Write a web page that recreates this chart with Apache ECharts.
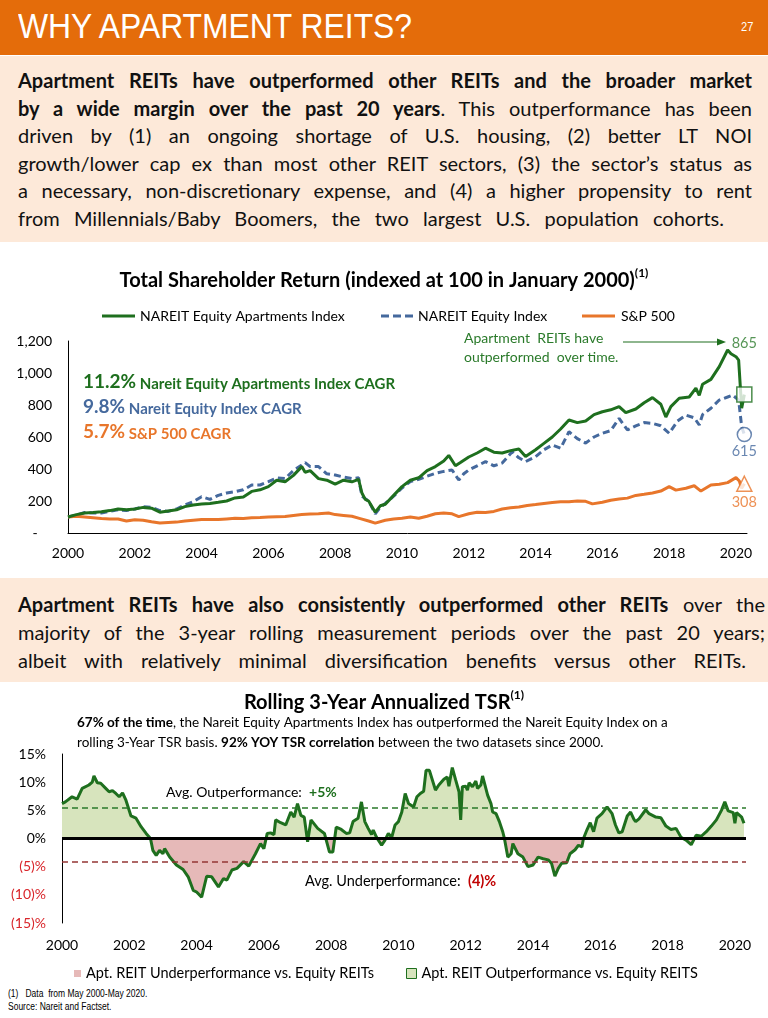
<!DOCTYPE html>
<html><head><meta charset="utf-8">
<script src="https://cdn.jsdelivr.net/npm/echarts@6/dist/echarts.min.js"></script>
<style>
html,body{margin:0;padding:0;width:768px;height:1018px;overflow:hidden;background:#fff;font-family:Lato,'Noto Sans',sans-serif;}
#hdr{position:absolute;left:0;top:0;width:768px;height:55px;background:#E46C0A;}
#hdr .t{position:absolute;left:18px;top:5px;color:#fff;font-family:'Liberation Sans',Arial,sans-serif;font-size:35px;line-height:42px;transform:scaleX(0.91);transform-origin:0 0;white-space:nowrap;}
#hdr .n{position:absolute;left:741px;top:19px;color:#fff;font-family:'Liberation Sans',Arial,sans-serif;font-size:13px;line-height:16px;transform:scaleX(0.85);transform-origin:0 0;}
.box{position:absolute;left:0;width:768px;background:#FDE9D9;}
.jl{position:absolute;left:18px;display:inline-block;white-space:nowrap;font-size:20px;line-height:28px;color:#111;}
.jl b{font-weight:700;}
.fn{position:absolute;left:8px;font-family:'Liberation Sans',Arial,sans-serif;font-size:10px;line-height:12px;color:#000;transform:scaleX(0.85);transform-origin:0 0;white-space:nowrap;}
#chart{position:absolute;left:0;top:0;width:768px;height:1018px;z-index:2;}
</style>
</head>
<body>
<div id="hdr"><div class="t">WHY APARTMENT REITS?</div><div class="n">27</div></div>
<div class="box" style="top:56px;height:186px;"></div>
<div class="box" style="top:578px;height:104px;"></div>
<div class="jl" data-w="734" style="top:66px;"><b>Apartment REITs have outperformed other REITs and the broader market</b></div>
<div class="jl" data-w="734" style="top:93.6px;"><b>by a wide margin over the past 20 years</b>. This outperformance has been</div>
<div class="jl" data-w="734" style="top:121.2px;">driven by (1) an ongoing shortage of U.S. housing, (2) better LT NOI</div>
<div class="jl" data-w="734" style="top:148.8px;">growth/lower cap ex than most other REIT sectors, (3) the sector’s status as</div>
<div class="jl" data-w="734" style="top:176.4px;">a necessary, non-discretionary expense, and (4) a higher propensity to rent</div>
<div class="jl" data-w="706" style="top:204px;">from Millennials/Baby Boomers, the two largest U.S. population cohorts.</div>
<div class="jl" data-w="747" style="top:590px;"><b>Apartment REITs have also consistently outperformed other REITs</b> over the</div>
<div class="jl" data-w="747" style="top:618px;">majority of the 3-year rolling measurement periods over the past 20 years;</div>
<div class="jl" data-w="728" style="top:646px;">albeit with relatively minimal diversification benefits versus other REITs.</div>
<div class="fn" style="top:988px;">(1)&nbsp;&nbsp; Data&nbsp; from May 2000-May 2020.</div>
<div class="fn" style="top:1001px;">Source: Nareit and Factset.</div>
<div id="chart"></div>
<script>
// ---------- DATA ----------
const aptTSR = [[2000.0,100],[2000.25,115],[2000.5,125],[2000.75,128],[2001.0,133],[2001.25,140],[2001.5,150],[2001.75,145],[2002.0,150],[2002.25,160],[2002.5,155],[2002.75,130],[2003.0,138],[2003.25,145],[2003.5,165],[2003.75,175],[2004.0,181],[2004.25,185],[2004.5,192],[2004.75,200],[2005.0,219],[2005.25,225],[2005.5,260],[2005.75,270],[2006.0,290],[2006.25,330],[2006.5,320],[2006.75,360],[2007.0,415],[2007.1,380],[2007.25,390],[2007.5,340],[2007.75,330],[2008.0,305],[2008.25,330],[2008.5,320],[2008.7,335],[2008.8,250],[2008.9,210],[2009.0,200],[2009.2,130],[2009.35,170],[2009.5,180],[2009.75,235],[2010.0,290],[2010.25,330],[2010.5,345],[2010.75,390],[2011.0,415],[2011.25,450],[2011.4,485],[2011.6,420],[2011.75,440],[2012.0,475],[2012.25,500],[2012.5,530],[2012.75,505],[2013.0,500],[2013.25,515],[2013.5,525],[2013.7,478],[2014.0,520],[2014.25,560],[2014.5,600],[2014.75,650],[2015.0,706],[2015.25,690],[2015.5,700],[2015.75,740],[2016.0,758],[2016.25,770],[2016.5,790],[2016.7,752],[2017.0,775],[2017.25,814],[2017.5,846],[2017.75,805],[2017.9,725],[2018.05,790],[2018.3,842],[2018.6,850],[2018.8,905],[2018.9,860],[2019.0,930],[2019.25,960],[2019.5,1040],[2019.75,1144],[2019.85,1120],[2020.0,1102],[2020.08,1080],[2020.17,780],[2020.25,865]];
const reitTSR = [[2000.0,100],[2000.25,112],[2000.5,128],[2000.75,125],[2001.0,125],[2001.25,135],[2001.5,145],[2001.75,140],[2002.0,150],[2002.25,165],[2002.5,160],[2002.75,140],[2003.0,135],[2003.25,150],[2003.5,175],[2003.75,195],[2004.0,227],[2004.25,210],[2004.5,235],[2004.75,250],[2005.0,258],[2005.25,270],[2005.5,300],[2005.75,300],[2006.0,321],[2006.25,345],[2006.5,340],[2006.75,390],[2007.0,425],[2007.1,440],[2007.25,415],[2007.5,415],[2007.75,370],[2008.0,362],[2008.25,350],[2008.5,340],[2008.7,345],[2008.8,230],[2008.9,215],[2009.0,200],[2009.2,120],[2009.35,160],[2009.5,185],[2009.75,230],[2010.0,281],[2010.25,321],[2010.5,335],[2010.75,355],[2011.0,373],[2011.25,385],[2011.5,394],[2011.7,331],[2011.85,370],[2012.0,394],[2012.25,420],[2012.5,446],[2012.75,420],[2013.0,437],[2013.3,508],[2013.5,470],[2013.7,446],[2014.0,477],[2014.25,520],[2014.5,550],[2014.75,530],[2015.0,633],[2015.25,590],[2015.5,562],[2015.75,600],[2016.0,623],[2016.25,640],[2016.5,717],[2016.75,644],[2017.0,670],[2017.25,690],[2017.5,685],[2017.75,670],[2018.0,623],[2018.25,700],[2018.5,737],[2018.75,720],[2018.9,675],[2019.0,740],[2019.25,780],[2019.5,831],[2019.75,850],[2019.9,862],[2020.08,831],[2020.17,665],[2020.25,615]];
const spTSR = [[2000.0,100],[2000.25,105],[2000.5,100],[2000.75,95],[2001.0,90],[2001.25,88],[2001.5,88],[2001.75,75],[2002.0,83],[2002.25,80],[2002.5,70],[2002.75,62],[2003.0,65],[2003.25,68],[2003.5,75],[2003.75,80],[2004.0,85],[2004.25,85],[2004.5,84],[2004.75,88],[2005.0,92],[2005.25,90],[2005.5,95],[2005.75,97],[2006.0,100],[2006.25,102],[2006.5,103],[2006.75,110],[2007.0,115],[2007.25,118],[2007.5,120],[2007.8,125],[2008.0,115],[2008.25,110],[2008.5,105],[2008.75,90],[2009.0,75],[2009.2,62],[2009.5,80],[2009.75,88],[2010.0,92],[2010.25,100],[2010.5,92],[2010.75,105],[2011.0,120],[2011.25,125],[2011.5,120],[2011.7,102],[2012.0,120],[2012.25,130],[2012.5,128],[2012.75,135],[2013.0,150],[2013.25,158],[2013.5,162],[2013.75,172],[2014.0,178],[2014.25,185],[2014.5,190],[2014.75,195],[2015.0,196],[2015.25,200],[2015.5,198],[2015.7,182],[2016.0,192],[2016.25,205],[2016.5,212],[2016.75,218],[2017.0,235],[2017.25,242],[2017.5,250],[2017.75,262],[2018.0,290],[2018.2,268],[2018.5,280],[2018.75,295],[2018.95,262],[2019.25,300],[2019.5,305],[2019.75,315],[2020.0,346],[2020.1,325],[2020.17,280],[2020.25,308]];
const rollingTSR = [[2000.0,6.2],[2000.1,6.5],[2000.3,7.4],[2000.45,7.0],[2000.6,8.9],[2000.8,9.5],[2000.9,10.0],[2000.95,11.1],[2001.05,9.9],[2001.15,9.8],[2001.3,8.9],[2001.4,8.3],[2001.5,8.5],[2001.6,8.0],[2001.7,7.4],[2001.8,8.1],[2001.9,6.8],[2002.05,4.0],[2002.2,3.6],[2002.35,2.1],[2002.5,0.9],[2002.55,1.2],[2002.63,0.0],[2002.7,-2.1],[2002.8,-3.0],[2002.9,-2.1],[2003.0,-2.7],[2003.05,-1.8],[2003.2,-3.3],[2003.4,-4.7],[2003.5,-5.1],[2003.6,-5.5],[2003.75,-6.8],[2003.9,-9.2],[2004.0,-9.5],[2004.15,-10.4],[2004.3,-6.7],[2004.45,-6.8],[2004.65,-8.6],[2004.8,-7.1],[2004.9,-7.4],[2005.05,-5.6],[2005.2,-5.3],[2005.4,-4.1],[2005.55,-4.9],[2005.75,-2.7],[2005.9,-0.9],[2006.0,-1.8],[2006.1,0.9],[2006.2,1.0],[2006.3,0.7],[2006.35,3.3],[2006.5,2.8],[2006.65,2.4],[2006.8,4.7],[2006.9,3.8],[2007.0,6.2],[2007.1,4.1],[2007.2,3.8],[2007.3,-0.6],[2007.4,3.3],[2007.6,1.8],[2007.8,0.9],[2007.95,-2.4],[2008.05,-2.4],[2008.15,2.0],[2008.3,1.6],[2008.45,0.9],[2008.55,1.0],[2008.65,3.0],[2008.8,3.6],[2008.9,6.5],[2009.0,3.0],[2009.1,1.8],[2009.2,0.7],[2009.25,1.5],[2009.35,0.2],[2009.5,-1.2],[2009.6,-0.3],[2009.7,0.9],[2009.8,0.2],[2009.9,2.4],[2010.0,3.0],[2010.1,4.7],[2010.2,8.0],[2010.3,6.2],[2010.45,5.6],[2010.55,7.4],[2010.65,8.0],[2010.75,8.4],[2010.82,12.1],[2010.92,12.1],[2011.1,8.6],[2011.2,9.5],[2011.35,10.5],[2011.45,10.9],[2011.5,9.3],[2011.6,12.6],[2011.7,10.4],[2011.8,8.3],[2011.85,3.3],[2011.9,9.2],[2012.0,9.3],[2012.05,8.6],[2012.1,9.9],[2012.2,9.2],[2012.3,10.2],[2012.35,8.9],[2012.45,9.5],[2012.5,11.1],[2012.65,7.7],[2012.75,6.2],[2012.8,4.7],[2012.9,4.4],[2013.0,3.0],[2013.1,1.2],[2013.15,0.0],[2013.25,-3.3],[2013.35,-2.7],[2013.4,-0.9],[2013.55,-2.7],[2013.7,-3.3],[2013.85,-5.0],[2014.0,-4.7],[2014.15,-3.3],[2014.3,-3.6],[2014.45,-3.8],[2014.55,-4.4],[2014.65,-6.7],[2014.75,-5.3],[2014.85,-4.4],[2015.0,-4.3],[2015.1,-2.7],[2015.25,-2.0],[2015.35,-1.2],[2015.45,-1.5],[2015.5,0.0],[2015.6,1.5],[2015.7,2.8],[2015.8,1.2],[2015.9,3.6],[2016.05,4.4],[2016.2,5.6],[2016.35,4.4],[2016.45,2.4],[2016.55,1.0],[2016.65,1.2],[2016.8,4.0],[2016.9,4.7],[2017.0,3.4],[2017.05,3.0],[2017.15,3.5],[2017.35,5.1],[2017.45,4.4],[2017.65,3.8],[2017.8,3.7],[2017.95,2.2],[2018.1,1.6],[2018.25,1.8],[2018.4,0.2],[2018.55,-0.3],[2018.7,-1.1],[2018.85,0.6],[2019.0,0.4],[2019.15,1.2],[2019.3,2.2],[2019.45,3.3],[2019.6,5.0],[2019.7,6.5],[2019.8,4.9],[2019.95,4.6],[2020.0,2.7],[2020.05,4.6],[2020.2,3.8],[2020.27,2.7]];
const avgLines = [5.4, -4.1];           // dashed average lines (%)
const avgLabels = ['+5%', '(4)%'];
const cagrValues = ['11.2%', '9.8%', '5.7%'];
const cagrNames = ['Nareit Equity Apartments Index CAGR', 'Nareit Equity Index CAGR', 'S&P 500 CAGR'];
const seriesNames = ['NAREIT Equity Apartments Index', 'NAREIT Equity Index', 'S&P 500'];
const legend2Names = ['Apt. REIT Underperformance vs. Equity REITs', 'Apt. REIT Outperformance vs. Equity REITS'];

// ---------- text justification ----------
function justify(){
  document.querySelectorAll('.jl').forEach(el=>{
    el.style.wordSpacing='0px';
    const w = el.getBoundingClientRect().width;
    const n = (el.textContent.match(/ /g)||[]).length;
    if(n>0) el.style.wordSpacing = ((+el.dataset.w - w)/n)+'px';
  });
}
justify();
if(document.fonts && document.fonts.ready) document.fonts.ready.then(justify);

// ---------- chart ----------
const GREEN='#1E6F1E', TGREEN='#2A7A2A', BLUE='#45699D', ORANGE='#E8762B', PINK='#E6B9B8', LGREEN='#D7E4BD', RED='#D9262B', DRED='#C00000';
const F='Lato';
const last = a => a[a.length-1];
const yearFmt = v => (Math.abs(v-Math.round(v))<1e-6 && Math.round(v)%2===0) ? String(Math.round(v)) : '';
// split point of the two-colour fill (zero level inside the area's bounding box)
const rVals = rollingTSR.map(d=>d[1]);
const rMax = Math.max(0, ...rVals), rMin = Math.min(0, ...rVals);
const zeroStop = rMax/(rMax - rMin);

const chart = echarts.init(document.getElementById('chart'), null, {renderer:'canvas'});
const titleRich = {t:{fontSize:20,fontWeight:'bold',color:'#000',fontFamily:F,lineHeight:24,verticalAlign:'bottom'},
                   s:{fontSize:12,fontWeight:'bold',color:'#000',fontFamily:F,verticalAlign:'top',lineHeight:24}};
const lineIcon = 'path://M0,0h33v3h-33z';
const dashIcon = 'path://M0,0h8v3h-8z M12,0h8v3h-8z M24,0h8v3h-8z';
const option = {
  animation:false,
  textStyle:{fontFamily:F},
  title:[
    {text:'{t|Total Shareholder Return (indexed at 100 in January 2000)}{s|(1)}', left:'center', top:262, textStyle:{rich:titleRich}},
    {text:'{t|Rolling 3-Year Annualized TSR}{s|(1)}', left:'center', top:684, textStyle:{rich:titleRich}}
  ],
  legend:[
    {left:97, top:304, data:[{name:seriesNames[0], icon:lineIcon}], itemWidth:33, itemHeight:3, textStyle:{fontSize:14,color:'#000',fontFamily:F}},
    {left:376, top:304, data:[{name:seriesNames[1], icon:dashIcon}], itemWidth:32, itemHeight:3, textStyle:{fontSize:14,color:'#000',fontFamily:F}},
    {left:577, top:304, data:[{name:seriesNames[2], icon:lineIcon}], itemWidth:35, itemHeight:3, textStyle:{fontSize:14,color:'#000',fontFamily:F}},
    {left:69, top:961, data:[{name:legend2Names[0], icon:'rect', itemStyle:{color:PINK}}], itemWidth:7, itemHeight:7, textStyle:{fontSize:14.5,color:'#000',fontFamily:F}},
    {left:401, top:961, data:[{name:legend2Names[1], icon:'rect', itemStyle:{color:LGREEN,borderColor:GREEN,borderWidth:1}}], itemWidth:10, itemHeight:10, textStyle:{fontSize:14.5,color:'#000',fontFamily:F}}
  ],
  grid:[
    {left:68, top:341, width:679, height:192},
    {left:62, top:754, width:684, height:169}
  ],
  xAxis:[
    {type:'value', gridIndex:0, min:2000, max:2020.33, interval:2,
     axisLine:{onZero:false, lineStyle:{color:'#000',width:1}}, axisTick:{show:false}, splitLine:{show:false},
     axisLabel:{formatter:yearFmt, fontSize:14, color:'#000', margin:13, fontFamily:F}},
    {type:'value', gridIndex:1, min:2000, max:2020.33, interval:2,
     axisLine:{show:false, onZero:false}, axisTick:{show:false}, splitLine:{show:false},
     axisLabel:{formatter:yearFmt, fontSize:14, color:'#000', margin:15, fontFamily:F}}
  ],
  yAxis:[
    {type:'value', gridIndex:0, min:0, max:1200, interval:200,
     axisLine:{show:true, onZero:false, lineStyle:{color:'#000',width:1}}, axisTick:{show:false}, splitLine:{show:false},
     axisLabel:{formatter:v=> v===0 ? '-    ' : v.toLocaleString('en-US'), fontSize:14, color:'#000', margin:16, fontFamily:F}},
    {type:'value', gridIndex:1, min:-15, max:15, interval:5,
     axisLine:{show:true, onZero:false, lineStyle:{color:'#000',width:1}}, axisTick:{show:false}, splitLine:{show:false},
     axisLabel:{formatter:v=> v>0 ? v+'%' : (v===0 ? '0%' : '('+(-v)+')%'),
                color:(v)=> Number(v)<0 ? RED : '#000', fontSize:14, margin:16, fontFamily:F}}
  ],
  series:[
    {name:seriesNames[0], type:'line', xAxisIndex:0, yAxisIndex:0, data:aptTSR, symbol:'none', z:4,
     lineStyle:{color:GREEN,width:3}, itemStyle:{color:GREEN}},
    {name:seriesNames[1], type:'line', xAxisIndex:0, yAxisIndex:0, data:reitTSR, symbol:'none', z:3,
     lineStyle:{color:BLUE,width:3,type:[7,4]}, itemStyle:{color:BLUE}},
    {name:seriesNames[2], type:'line', xAxisIndex:0, yAxisIndex:0, data:spTSR, symbol:'none', z:3,
     lineStyle:{color:ORANGE,width:3}, itemStyle:{color:ORANGE}},
    {name:'endpoints', type:'scatter', xAxisIndex:0, yAxisIndex:0, z:6, symbolSize:14,
     data:[
       {value:last(aptTSR), symbol:'rect', symbolSize:15, itemStyle:{color:'#fff',borderColor:GREEN,borderWidth:1.5},
        label:{show:true, position:'top', distance:36, formatter:p=>String(p.value[1]), color:TGREEN, fontSize:14.5, fontFamily:F}},
       {value:last(reitTSR), symbol:'circle', symbolSize:14, itemStyle:{color:'#fff',borderColor:BLUE,borderWidth:1.5},
        label:{show:true, position:'bottom', distance:1, formatter:p=>String(p.value[1]), color:BLUE, fontSize:14.5, fontFamily:F}},
       {value:last(spTSR), symbol:'triangle', symbolSize:15, itemStyle:{color:'#fff',borderColor:ORANGE,borderWidth:1.5},
        label:{show:true, position:'bottom', distance:3, formatter:p=>String(p.value[1]), color:ORANGE, fontSize:14.5, fontFamily:F}}
     ]},
    {name:'Rolling 3-Year TSR difference', type:'line', xAxisIndex:1, yAxisIndex:1, data:rollingTSR, symbol:'none', z:3,
     lineStyle:{color:GREEN,width:3}, itemStyle:{color:GREEN},
     areaStyle:{opacity:1, origin:0, color:{type:'linear', x:0, y:0, x2:0, y2:1, global:false,
        colorStops:[{offset:0,color:LGREEN},{offset:zeroStop,color:LGREEN},{offset:zeroStop,color:PINK},{offset:1,color:PINK}]}},
     markLine:{silent:true, symbol:'none', label:{show:false},
       data:[
         {yAxis:0, lineStyle:{color:'#000',width:3,type:'solid'}},
         {yAxis:avgLines[0], lineStyle:{color:'#2A7A2A',width:1.5,type:[6,4]}},
         {yAxis:avgLines[1], lineStyle:{color:'#943634',width:1.5,type:[6,4]}}
       ]}},
    {name:legend2Names[0], type:'line', xAxisIndex:1, yAxisIndex:1, data:[], itemStyle:{color:PINK}},
    {name:legend2Names[1], type:'line', xAxisIndex:1, yAxisIndex:1, data:[], itemStyle:{color:LGREEN}}
  ],
  graphic:[
    {type:'text', x:83, y:382, style:{verticalAlign:'middle', text:'{a|'+cagrValues[0]+'}{b| '+cagrNames[0]+'}',
      rich:{a:{fontSize:19,fontWeight:'bold',fill:GREEN,fontFamily:F,verticalAlign:'bottom'},b:{fontSize:15,fontWeight:'bold',fill:GREEN,fontFamily:F,verticalAlign:'bottom'}}}},
    {type:'text', x:83, y:407, style:{verticalAlign:'middle', text:'{a|'+cagrValues[1]+'}{b| '+cagrNames[1]+'}',
      rich:{a:{fontSize:19,fontWeight:'bold',fill:BLUE,fontFamily:F,verticalAlign:'bottom'},b:{fontSize:15,fontWeight:'bold',fill:BLUE,fontFamily:F,verticalAlign:'bottom'}}}},
    {type:'text', x:83, y:432, style:{verticalAlign:'middle', text:'{a|'+cagrValues[2]+'}{b| '+cagrNames[2]+'}',
      rich:{a:{fontSize:19,fontWeight:'bold',fill:ORANGE,fontFamily:F,verticalAlign:'bottom'},b:{fontSize:15,fontWeight:'bold',fill:ORANGE,fontFamily:F,verticalAlign:'bottom'}}}},
    {type:'text', x:464, y:329, style:{text:'Apartment  REITs have\noutperformed  over time.', fill:TGREEN, fontSize:14, fontFamily:F, lineHeight:19}},
    {type:'line', shape:{x1:623,y1:342,x2:718,y2:342}, style:{stroke:GREEN,lineWidth:1.2}},
    {type:'polygon', shape:{points:[[717,338.5],[726,342],[717,345.5]]}, style:{fill:GREEN}},
    {type:'text', x:77, y:713, style:{lineHeight:20, text:'{b|67% of the time}{n|, the Nareit Equity Apartments Index has outperformed the Nareit Equity Index on a}\n{n|rolling 3-Year TSR basis. }{b|92% YOY TSR correlation}{n| between the two datasets since 2000.}',
      rich:{b:{fontSize:13.5,fontWeight:'bold',fill:'#000',fontFamily:F},n:{fontSize:13.5,fill:'#000',fontFamily:F}}}},
    {type:'text', x:166, y:792, style:{verticalAlign:'middle', text:'{n|Avg. Outperformance:  }{b|'+avgLabels[0]+'}',
      rich:{n:{fontSize:14,fill:'#000',fontFamily:F},b:{fontSize:14,fontWeight:'bold',fill:GREEN,fontFamily:F}}}},
    {type:'text', x:305, y:881, style:{verticalAlign:'middle', text:'{n|Avg. Underperformance:  }{b|'+avgLabels[1]+'}',
      rich:{n:{fontSize:14.5,fill:'#000',fontFamily:F},b:{fontSize:14.5,fontWeight:'bold',fill:DRED,fontFamily:F}}}}
  ]
};
chart.setOption(option);
</script>
</body></html>
